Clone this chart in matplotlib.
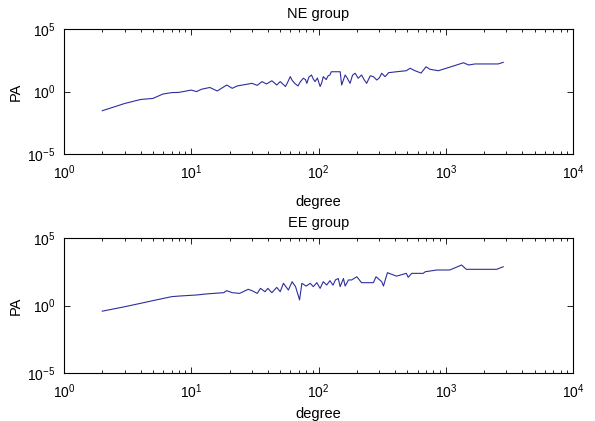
import numpy as np
from matplotlib import pyplot as plt
from matplotlib.ticker import FixedLocator, NullLocator, NullFormatter

plt.rcParams['font.family'] = ['Liberation Sans', 'DejaVu Sans']
plt.rcParams['mathtext.fontset'] = 'custom'
plt.rcParams['mathtext.rm'] = 'Liberation Sans'

# NE group
ne_degree = [2, 3, 4, 5, 6, 7, 8, 10, 11, 12, 14, 16, 19, 21, 23, 27, 30, 33, 36, 39,
             43, 47, 50, 55, 57, 60, 62, 65, 69, 72, 76, 79, 81, 84, 88, 91, 94, 98, 103, 106,
             109, 115, 119, 123, 126, 148, 152, 162, 168, 177, 185, 194, 205, 218, 228, 239, 255, 270, 287, 300,
             314, 333, 345, 355, 410, 490, 524, 573, 640, 700, 750, 875, 1150, 1380, 1510, 1700, 2580, 2830]
ne_pa = [0.029, 0.11, 0.23, 0.28, 0.63, 0.81, 0.85, 1.3, 0.98, 1.5, 2.1, 1.1, 3.3, 1.8, 2.8, 3.7, 4.5, 3.1, 6.2, 4.0,
         7.2, 3.3, 6.2, 2.5, 5.0, 15.5, 8.0, 4.5, 2.8, 6.0, 11.5, 9.0, 4.5, 14, 21, 10, 6.2, 12, 2.5, 5.0,
         15.5, 9.0, 18, 21, 38, 38, 3.3, 21, 12, 4.5, 20, 29, 11.5, 21, 9.0, 4.5, 18, 15.5, 8.3, 12,
         29, 15.5, 22, 32, 38, 46, 72, 46, 30, 95, 60, 46, 110, 200, 132, 160, 160, 214]

# EE group
ee_degree = [2, 3, 4, 5, 7, 8, 11, 13, 15, 18, 19, 21, 24, 28, 30, 33, 35, 38, 40, 43,
             47, 50, 53, 58, 62, 66, 71, 74, 80, 86, 91, 97, 103, 109, 116, 123, 130, 136, 143, 148,
             157, 162, 172, 182, 200, 218, 270, 283, 314, 324, 348, 410, 490, 507, 540, 665, 690, 850, 1075, 1333,
             1450, 2510, 2830]
ee_pa = [0.38, 0.81, 1.45, 2.3, 4.5, 5.0, 6.0, 7.1, 7.9, 8.9, 12.6, 8.9, 7.9, 15.8, 12.6, 7.9, 18.6, 10.5, 18.6, 8.9,
         22, 10.5, 44, 14, 58, 25, 2.6, 44, 27.5, 44, 25, 49, 18.6, 58, 33, 69, 32, 79, 100, 25,
         100, 27.5, 78, 78, 135, 49, 49, 135, 58, 27.5, 270, 150, 240, 123, 240, 240, 316, 427, 427, 1000,
         479, 479, 741]

titles = ['NE group', 'EE group']
xticks = [1, 10, 100, 1000, 10000]
yticks = [1e-5, 1, 1e5]

fig = plt.figure(figsize=(5.95, 4.21), dpi=100)
ax1 = fig.add_axes([64/595, 1-154/421, 509/595, 125/421])
ax2 = fig.add_axes([64/595, 1-373/421, 509/595, 135/421])

minor = [m * d for d in xticks[:-1] for m in range(2, 10)]

for ax, deg, pa, title, lp in zip([ax1, ax2], [ne_degree, ee_degree], [ne_pa, ee_pa], titles, [9, 4]):
    ax.loglog(deg, pa, color='#2e2e9e', linewidth=0.8)
    ax.set_xlim(1, 1e4)
    ax.set_ylim(1e-5, 1e5)
    ax.xaxis.set_major_locator(FixedLocator(xticks))
    ax.xaxis.set_minor_locator(FixedLocator(minor))
    ax.xaxis.set_minor_formatter(NullFormatter())
    ax.yaxis.set_major_locator(FixedLocator(yticks))
    ax.yaxis.set_minor_locator(NullLocator())
    ax.tick_params(which='both', direction='in', top=True, right=True, labelsize=10, width=0.6)
    ax.tick_params(which='major', length=4)
    ax.tick_params(which='minor', length=2.5)
    ax.tick_params(axis='x', pad=7)
    ax.tick_params(axis='y', pad=6)
    ax.set_title(title, fontsize=10.5, pad=8)
    ax.set_xlabel('degree', fontsize=10.5, labelpad=lp)
    ax.set_ylabel('PA', fontsize=10.5, labelpad=3)
    for s in ax.spines.values():
        s.set_linewidth(0.8)

plt.savefig('out.png', dpi=100)
